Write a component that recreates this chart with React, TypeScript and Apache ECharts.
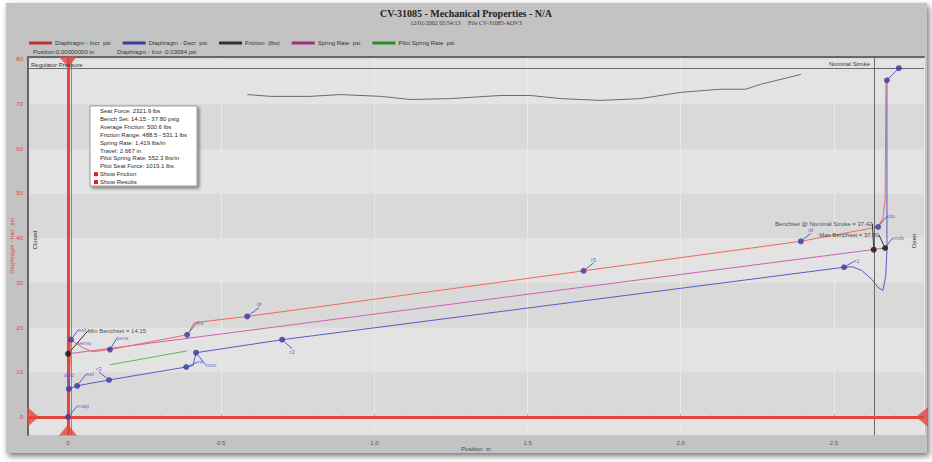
import React, { useEffect, useRef } from 'react';
import * as echarts from 'echarts';

// ---------------- data ----------------
const seriesNames = [
  'Diaphragm - Incr  psi',
  'Diaphragm - Decr  psi',
  'Friction  (lbs)',
  'Spring Rate  psi',
  'Pilot Spring Rate  psi',
];

const diaphragmIncr: [number, number][] = [
  [0, 0], [0.01, 17.3], [0.03, 16.3], [0.049, 15.5], [0.082, 14.6], [0.137, 15.1],
  [0.389, 18.4], [0.395, 19.0], [0.412, 21.1], [0.585, 22.5], [1.683, 32.7],
  [2.392, 39.3], [2.644, 42.5], [2.66, 44.5], [2.667, 48.5], [2.67, 75.3],
];

const diaphragmDecr: [number, number][] = [
  [0, 0], [0.003, 6.3], [0.03, 7.0], [0.134, 8.3], [0.386, 11.2], [0.408, 11.5],
  [0.418, 14.4], [0.699, 17.3], [2.533, 33.5], [2.56, 33.6], [2.59, 32.8],
  [2.621, 31.0], [2.644, 29.0], [2.66, 28.3], [2.669, 31.5], [2.673, 37.3],
  [2.673, 75.3], [2.712, 78.0],
];

const friction: [number, number][] = [
  [0.585, 72.1], [0.66, 71.7], [0.79, 71.7], [0.889, 72.1], [1.02, 71.7],
  [1.118, 71.0], [1.248, 71.2], [1.412, 71.9], [1.51, 71.9], [1.608, 71.2],
  [1.739, 70.8], [1.869, 71.2], [2.0, 72.6], [2.131, 73.3], [2.212, 73.3],
  [2.261, 74.4], [2.392, 76.6],
];

const springRate: [number, number][] = [[0, 14.15], [2.667, 37.8]];
const pilotSpringRate: [number, number][] = [[0.137, 11.7], [0.389, 14.8]];

const pointNames = [
  'map', 'dsd', 'ssf', 'r3', 'r4', 'msc', 'r2', 'r1', 'ssf', 'semo', 'pms', 'fre',
  'dt', 'r5', 'dt', 'plo', 'mxb', '', '',
];
const pointValues: [number, number][] = [
  [0, 0], [0.003, 6.3], [0.03, 7.0], [0.134, 8.3], [0.386, 11.2], [0.418, 14.4],
  [0.699, 17.3], [2.533, 33.5], [0.01, 17.3], [0.01, 17.3], [0.137, 15.1],
  [0.389, 18.4], [0.585, 22.5], [1.683, 32.7], [2.392, 39.3], [2.644, 42.5],
  [2.667, 37.8], [2.673, 75.3], [2.712, 78.0],
];

const benchNames = [
  'Min Benchset = 14.15',
  'Benchset @ Nominal Stroke = 37.42',
  'Max Benchset = 37.80',
];
const benchValues: [number, number][] = [[0, 14.15], [2.63, 37.42], [2.667, 37.8]];

const regulatorPressure = 78;
const nominalStroke = 2.63;
const cursorPosition = 0;
const cursorValue = 0;
const zeroReference = 0.013;

const xMin = -0.1305;
const xMax = 2.794;
const yMin = -4;
const yMax = 80.5;

const titleText = 'CV-31085 - Mechanical Properties - N/A';
const subTitleText = '12/01/2002 05:54:13     File CV-31085-AOV3';
const readoutPosition = 'Position:0.00000000 in';
const readoutValue = 'Diaphragm - Incr -0.03094 psi';

const infoLines = [
  'Seat Force: 2321.9 lbs',
  'Bench Set: 14.15 - 37.80 psig',
  'Average Friction: 500.6 lbs',
  'Friction Range: 488.5 - 531.1 lbs',
  'Spring Rate: 1,419 lbs/in',
  'Travel: 2.667 in',
  'Pilot Spring Rate: 552.3 lbs/in',
  'Pilot Seat Force: 1019.1 lbs',
];
const infoToggles = ['Show Friction', 'Show Results'];

// ---------------- styling ----------------
const pointLabelOffsets: [number, number][] = [
  [15, -11], [0, -14], [13, -12], [-10, -11], [14, -5], [15, 12], [10, 12], [13, -6],
  [11, -10], [13, 3], [13, -12], [13, -12], [12, -12], [10, -11], [10, -11], [13, -11],
  [13, -10], [0, 0], [0, 0],
];
const benchLabelOffsets: [number, number][] = [[49, -23], [-50, -26], [-36, -13]];

const SANS = 'Liberation Sans, Arial, sans-serif';
const SERIF = 'Liberation Serif, Times New Roman, serif';
const RED = '#e2463f';

const TRI_DOWN = 'path://M0,0 L18,0 L9,11 Z';
const TRI_UP = 'path://M9,0 L18,11 L0,11 Z';
const TRI_RIGHT = 'path://M0,0 L12,10 L0,20 Z';
const TRI_LEFT = 'path://M12,0 L0,10 L12,20 Z';

export default function App() {
  const ref = useRef<HTMLDivElement>(null);

  useEffect(() => {
    if (!ref.current) return;
    const chart = echarts.init(ref.current, undefined, { renderer: 'svg' });

    const lineBase = {
      type: 'line' as const,
      showSymbol: false,
      symbol: 'none',
      silent: true,
    };

    const boxX = 90;
    const boxY = 106;
    const infoGraphics: any[] = [
      {
        type: 'rect',
        z: 100,
        shape: { x: boxX, y: boxY, width: 107, height: 80 },
        style: { fill: '#ffffff', stroke: '#9a9a9a', lineWidth: 1, shadowBlur: 3, shadowOffsetX: 2, shadowOffsetY: 2, shadowColor: 'rgba(0,0,0,0.45)' },
      },
    ];
    infoLines.forEach((t, i) => {
      infoGraphics.push({
        type: 'text',
        z: 101,
        x: boxX + 10,
        y: boxY + 5 + i * 7.9,
        style: { text: t, fontSize: 6, fontFamily: SANS, fill: '#2a2a2a', textVerticalAlign: 'middle' },
      });
    });
    infoToggles.forEach((t, i) => {
      const yy = boxY + 5 + (infoLines.length + i) * 7.9;
      infoGraphics.push({
        type: 'rect',
        z: 101,
        shape: { x: boxX + 4, y: yy - 2, width: 4, height: 4 },
        style: { fill: '#e02020' },
      });
      infoGraphics.push({
        type: 'text',
        z: 101,
        x: boxX + 10,
        y: yy,
        style: { text: t, fontSize: 6, fontFamily: SANS, fill: '#2a2a2a', textVerticalAlign: 'middle' },
      });
    });

    const option: any = {
      animation: false,
      title: {
        text: titleText,
        subtext: subTitleText,
        left: 'center',
        top: 3,
        itemGap: 2,
        textStyle: { fontFamily: SERIF, fontSize: 10, fontWeight: 'bold', color: '#222' },
        subtextStyle: { fontFamily: SERIF, fontSize: 6, color: '#333' },
      },
      legend: {
        data: seriesNames,
        left: 29,
        top: 40,
        padding: 0,
        icon: 'rect',
        itemWidth: 23,
        itemHeight: 3,
        itemGap: 12,
        textStyle: { fontSize: 6, fontFamily: SANS, color: '#333', padding: [0, 0, 0, -2] },
      },
      grid: {
        left: 28,
        right: 8,
        top: 57,
        bottom: 27,
        show: true,
        containLabel: false,
        outerBoundsMode: 'none',
        backgroundColor: '#e3e3e3',
        borderWidth: 0,
      },
      xAxis: [
        {
          type: 'value',
          min: xMin,
          max: xMax,
          splitNumber: 6,
          name: 'Position  in',
          nameLocation: 'middle',
          nameGap: 11,
          nameMoveOverlap: false,
          nameTextStyle: { fontSize: 6, fontFamily: SANS, color: '#444' },
          axisLine: { show: false },
          axisTick: { show: true, inside: true, length: 3, lineStyle: { color: '#aaa' } },
          minorTick: { show: true, splitNumber: 5, length: 2, lineStyle: { color: '#b5b5b5' } },
          axisLabel: {
            showMinLabel: false,
            showMaxLabel: false,
            fontSize: 6,
            fontFamily: SANS,
            color: '#555',
            margin: 5,
            formatter: (v: number) => (v === 0 ? '0' : v.toFixed(1)),
          },
          splitLine: { show: true, lineStyle: { color: '#eaeaea', width: 1 } },
        },
        {
          type: 'value',
          position: 'top',
          min: xMin,
          max: xMax,
          axisLine: { show: true, onZero: false, lineStyle: { color: '#666', width: 2 } },
          axisTick: { show: false },
          axisLabel: { show: false },
          splitLine: { show: false },
        },
      ],
      yAxis: {
        type: 'value',
        min: yMin,
        max: yMax,
        splitNumber: 8,
        name: 'Diaphragm - Incr  psi',
        nameLocation: 'middle',
        nameGap: 13,
        nameMoveOverlap: false,
        nameRotate: 90,
        nameTextStyle: { fontSize: 6, fontFamily: SANS, color: RED },
        axisLine: { show: true, onZero: false, lineStyle: { color: '#666', width: 2 } },
        axisTick: { show: false },
        axisLabel: { showMinLabel: false, showMaxLabel: false, fontSize: 6, fontFamily: SANS, color: RED, margin: 5 },
        splitLine: { show: false },
        splitArea: { show: true, areaStyle: { color: ['#e3e3e3', '#d9d9d9'] } },
      },
      series: [
        {
          ...lineBase,
          name: 'refs',
          data: [],
          z: 1,
          markLine: {
            silent: true,
            symbol: ['none', 'none'],
            label: { show: false },
            data: [
              { xAxis: zeroReference, lineStyle: { color: '#8a8a8a', width: 1, type: 'solid' } },
              { xAxis: nominalStroke, lineStyle: { color: '#6a6a6a', width: 1, type: 'solid' } },
              { yAxis: regulatorPressure, lineStyle: { color: '#6a6a6a', width: 1, type: 'solid' } },
            ],
          },
        },
        {
          ...lineBase,
          name: seriesNames[2],
          data: friction,
          color: '#333333',
          lineStyle: { color: '#6a6a6a', width: 1 },
          z: 3,
        },
        {
          ...lineBase,
          name: seriesNames[3],
          data: springRate,
          color: '#a0307e',
          lineStyle: { color: '#d060b0', width: 1 },
          z: 3,
        },
        {
          ...lineBase,
          name: seriesNames[4],
          data: pilotSpringRate,
          color: '#2f8a2f',
          lineStyle: { color: '#5cb85c', width: 1 },
          z: 3,
        },
        {
          ...lineBase,
          name: seriesNames[1],
          data: diaphragmDecr,
          color: '#3a3aa0',
          lineStyle: { color: '#5a5ac8', width: 1 },
          z: 3,
        },
        {
          ...lineBase,
          name: seriesNames[0],
          data: diaphragmIncr,
          color: '#c03030',
          lineStyle: { color: '#ee6a5a', width: 1 },
          z: 3,
        },
        {
          ...lineBase,
          name: 'cursor',
          data: [],
          z: 4,
          markLine: {
            silent: true,
            symbol: ['none', 'none'],
            label: { show: false },
            lineStyle: { color: RED, width: 3, type: 'solid' },
            data: [{ xAxis: cursorPosition }, { yAxis: cursorValue }],
          },
        },
        {
          type: 'scatter',
          name: 'cursorMarks',
          silent: true,
          z: 5,
          itemStyle: { color: RED },
          data: [
            { value: [cursorPosition, yMax], symbol: TRI_DOWN, symbolSize: [18, 11], symbolOffset: [0, 5] },
            { value: [cursorPosition, yMin], symbol: TRI_UP, symbolSize: [18, 11], symbolOffset: [0, -5] },
            { value: [xMin, cursorValue], symbol: TRI_RIGHT, symbolSize: [12, 20], symbolOffset: [5, 0] },
            { value: [xMax, cursorValue], symbol: TRI_LEFT, symbolSize: [12, 20], symbolOffset: [-2, 0] },
          ],
        },
        {
          type: 'scatter',
          name: 'markers',
          silent: true,
          z: 6,
          itemStyle: { color: '#3838a0' },
          data: pointValues.map((v, i) => ({
            value: v,
            name: pointNames[i],
            symbolSize: pointNames[i] === 'semo' || pointNames[i] === 'mxb' ? 0 : 6,
            labelLine: { show: pointNames[i] !== '' && pointNames[i] !== 'semo' },
          })),
          label: {
            show: true,
            position: 'inside',
            formatter: '{b}',
            fontSize: 6,
            fontFamily: SANS,
            color: '#4a4ad0',
          },
          labelLayout: (p: any) => ({ dx: pointLabelOffsets[p.dataIndex][0], dy: pointLabelOffsets[p.dataIndex][1] }),
          labelLine: { show: true, lineStyle: { color: '#5a5ac8', width: 1 } },
        },
        {
          type: 'scatter',
          name: 'bench',
          silent: true,
          z: 7,
          symbolSize: 6,
          itemStyle: { color: '#111' },
          data: benchValues.map((v, i) => ({ value: v, name: benchNames[i] })),
          label: {
            show: true,
            position: 'inside',
            formatter: '{b}',
            fontSize: 6,
            fontFamily: SANS,
            color: '#222',
          },
          labelLayout: (p: any) => ({ dx: benchLabelOffsets[p.dataIndex][0], dy: benchLabelOffsets[p.dataIndex][1] }),
          labelLine: { show: true, lineStyle: { color: '#333', width: 1 } },
        },
      ],
      graphic: [
        { type: 'text', x: 33, y: 52, style: { text: readoutPosition, fontSize: 6, fontFamily: SANS, fill: '#333', textVerticalAlign: 'middle' } },
        { type: 'text', x: 117, y: 52, style: { text: readoutValue, fontSize: 6, fontFamily: SANS, fill: '#333', textVerticalAlign: 'middle' } },
        { type: 'text', x: 31, y: 65, z: 10, style: { text: 'Regulator Pressure', fontSize: 6, fontFamily: SANS, fill: '#333', textVerticalAlign: 'middle' } },
        { type: 'text', x: 870, y: 64, z: 10, style: { text: 'Nominal Stroke', fontSize: 6, fontFamily: SANS, fill: '#333', textAlign: 'right', textVerticalAlign: 'middle' } },
        { type: 'text', x: 35, y: 240, rotation: Math.PI / 2, z: 10, style: { text: 'Closed', fontSize: 6, fontFamily: SANS, fill: '#333', textAlign: 'center', textVerticalAlign: 'middle' } },
        { type: 'text', x: 914, y: 241, rotation: Math.PI / 2, z: 10, style: { text: 'Open', fontSize: 6, fontFamily: SANS, fill: '#333', textAlign: 'center', textVerticalAlign: 'middle' } },
        ...infoGraphics,
      ],
    };

    chart.setOption(option);
    return () => chart.dispose();
  }, []);

  return (
    <div style={{ position: 'fixed', left: 0, top: 0, width: 932, height: 462, background: '#ffffff', overflow: 'hidden' }}>
      <div
        style={{
          position: 'absolute',
          left: 6,
          top: 3,
          width: 921,
          height: 450,
          background: '#c3c3c3',
          boxShadow: '2px 3px 6px rgba(0,0,0,0.55)',
        }}
      />
      <div ref={ref} style={{ position: 'absolute', left: 0, top: 0, width: 932, height: 462 }} />
    </div>
  );
}
